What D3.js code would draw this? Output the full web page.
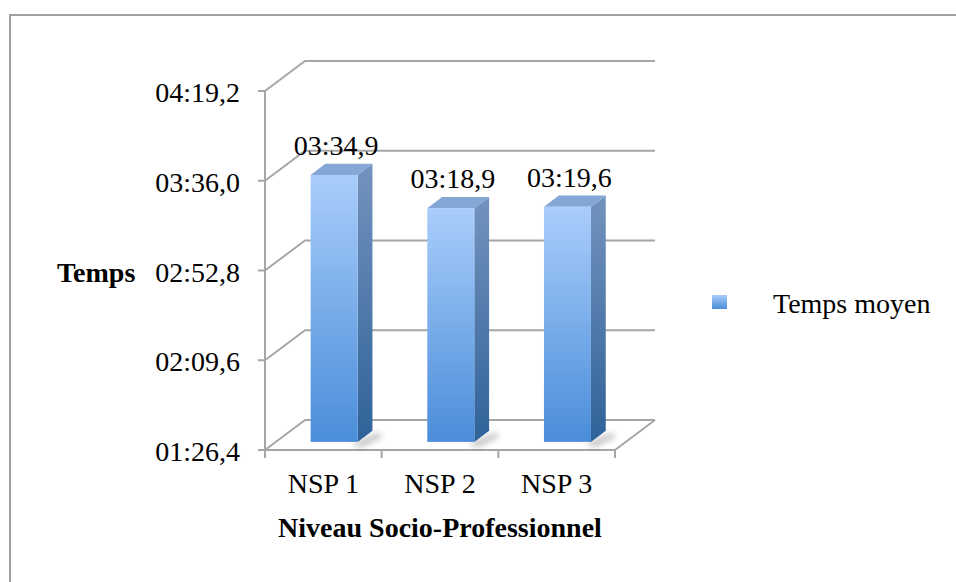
<!DOCTYPE html>
<html>
<head>
<meta charset="utf-8">
<script src="https://cdn.jsdelivr.net/npm/d3@7"></script>
<style>
  html, body { margin: 0; padding: 0; background: #ffffff; }
  svg { display: block; }
  text { font-family: "Liberation Serif", "Times New Roman", serif; fill: #000; }
</style>
</head>
<body>
<svg id="chart" width="956" height="582"></svg>
<script>
// ---- Data ----
const categories = ["NSP 1", "NSP 2", "NSP 3"];
const seriesName = "Temps moyen";
const values = [214.9, 198.9, 199.6];            // seconds
const yTicks = [86.4, 129.6, 172.8, 216.0, 259.2]; // seconds
const xTitle = "Niveau Socio-Professionnel";
const yTitle = "Temps";

function fmt(v) {
  const tenths = Math.round(v * 10);
  const m = Math.floor(tenths / 600);
  const s = (tenths - m * 600) / 10;
  const mm = String(m).padStart(2, "0");
  const ss = s.toFixed(1).padStart(4, "0").replace(".", ",");
  return mm + ":" + ss;
}

const svg = d3.select("#chart");
const grid = "#a6a6a6";

// Outer frame
svg.append("rect").attr("x", 10).attr("y", 15).attr("width", 1000).attr("height", 700)
  .attr("fill", "none").attr("stroke", "#a0a0a0").attr("stroke-width", 2);

// Scales
const x = d3.scaleBand().domain(categories).range([265, 615]).padding(0);
const y = d3.scaleLinear().domain([yTicks[0], yTicks[yTicks.length - 1]]).range([450, 91]);
const DX = 40, DY = -30; // depth offset
function P(px, py, t) { return [px + DX * t, py + DY * t]; }

const defs = svg.append("defs");
function vgrad(id, c1, c2) {
  const g = defs.append("linearGradient").attr("id", id).attr("x1", 0).attr("y1", 0).attr("x2", 0).attr("y2", 1);
  g.append("stop").attr("offset", "0%").attr("stop-color", c1);
  g.append("stop").attr("offset", "100%").attr("stop-color", c2);
}
vgrad("gFront", "#a9cdfb", "#4a8dd9");
vgrad("gSide", "#7393bd", "#2f6299");
vgrad("gLegend", "#a9cdfb", "#4a8dd9");
defs.append("filter").attr("id", "blur").attr("x", "-50%").attr("y", "-50%").attr("width", "200%").attr("height", "200%")
  .append("feGaussianBlur").attr("stdDeviation", 3);

const line = d3.line();
const x0 = x.range()[0], x1 = x.range()[1];

// Back wall gridlines + left side wall diagonals
yTicks.forEach(v => {
  const yy = y(v);
  svg.append("path").attr("d", line([[x0, yy], P(x0, yy, 1), P(x1, yy, 1)]))
    .attr("fill", "none").attr("stroke", grid).attr("stroke-width", 2);
});

// Floor
const yb = y(yTicks[0]);
svg.append("path").attr("d", line([[x0, yb], [x1, yb], P(x1, yb, 1)]))
  .attr("fill", "none").attr("stroke", grid).attr("stroke-width", 2);

// Front vertical axis
svg.append("line").attr("x1", x0).attr("x2", x0).attr("y1", y(yTicks[yTicks.length - 1])).attr("y2", yb)
  .attr("stroke", grid).attr("stroke-width", 2);

// Y ticks + labels
yTicks.forEach(v => {
  const yy = y(v);
  svg.append("line").attr("x1", x0 - 7).attr("x2", x0).attr("y1", yy).attr("y2", yy)
    .attr("stroke", grid).attr("stroke-width", 2);
  svg.append("text").attr("x", 240).attr("y", yy + 11).attr("text-anchor", "end")
    .attr("font-size", 28).text(fmt(v));
});

// X ticks + labels
const xEdges = categories.map(c => x(c)).concat([x1]);
xEdges.forEach(xx => {
  svg.append("line").attr("x1", xx).attr("x2", xx).attr("y1", yb).attr("y2", yb + 8)
    .attr("stroke", grid).attr("stroke-width", 2);
});
categories.forEach(c => {
  svg.append("text").attr("x", x(c) + x.bandwidth() / 2).attr("y", 493).attr("text-anchor", "middle")
    .attr("font-size", 28).text(c);
});

// Bars
const t0 = 0.27, t1 = 0.64;
const halfW = 23.5;
categories.forEach((c, i) => {
  const cx = x(c) + x.bandwidth() / 2;
  const vTop = y(values[i]);
  const fl = P(cx - halfW, yb, t0), fr = P(cx + halfW, yb, t0);
  const tl = P(cx - halfW, vTop, t0), tr = P(cx + halfW, vTop, t0);
  const btr = P(cx + halfW, vTop, t1), bbr = P(cx + halfW, yb, t1), btl = P(cx - halfW, vTop, t1);
  // shadow
  svg.append("path").attr("d", line([[fr[0] - 6, fr[1] + 2], [bbr[0] + 6, bbr[1] + 2], [bbr[0] + 10, bbr[1] + 6], [fr[0] + 4, fr[1] + 5]]) + "Z")
    .attr("fill", "#000").attr("opacity", 0.25).attr("filter", "url(#blur)");
  // side
  svg.append("path").attr("d", line([tr, btr, bbr, fr]) + "Z").attr("fill", "url(#gSide)");
  // top
  svg.append("path").attr("d", line([tl, tr, btr, btl]) + "Z").attr("fill", "#84a7d6");
  // front
  svg.append("rect").attr("x", tl[0]).attr("y", tl[1]).attr("width", tr[0] - tl[0]).attr("height", fl[1] - tl[1])
    .attr("fill", "url(#gFront)");
  // data label
  svg.append("text").attr("x", tl[0] + halfW + 2).attr("y", tl[1] - 20).attr("text-anchor", "middle")
    .attr("font-size", 28).text(fmt(values[i]));
});

// Axis titles
svg.append("text").attr("x", 57).attr("y", y(yTicks[2]) + 11).attr("font-size", 28).attr("font-weight", "bold").text(yTitle);
svg.append("text").attr("x", (x0 + x1) / 2).attr("y", 537).attr("text-anchor", "middle")
  .attr("font-size", 28).attr("font-weight", "bold").text(xTitle);

// Legend
svg.append("rect").attr("x", 712).attr("y", 295).attr("width", 15).attr("height", 14).attr("fill", "url(#gLegend)");
svg.append("text").attr("x", 773).attr("y", 313).attr("font-size", 28).text(seriesName);
</script>
</body>
</html>
